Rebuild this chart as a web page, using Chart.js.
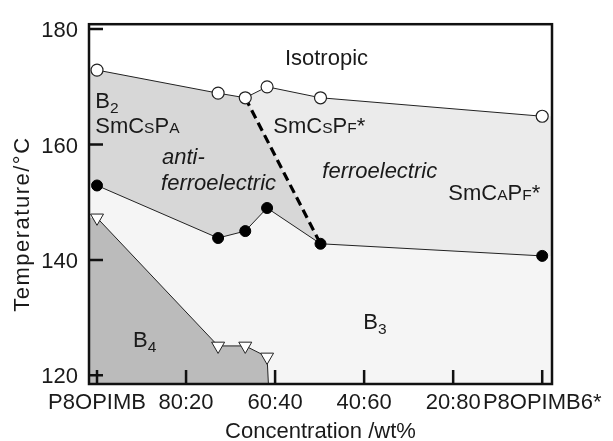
<!DOCTYPE html>
<html lang="en">
<head>
<meta charset="UTF-8">
<title>Phase diagram</title>
<script src="https://cdn.jsdelivr.net/npm/chart.js"></script>
<style>
  body { margin: 0; background: #fff; }
</style>
</head>
<body>
<canvas id="phaseChart" width="613" height="441"></canvas>
<script>
// concentration axis
const tickValues = [0, 20, 40, 60, 80, 100];
const tickLabels = ['P8OPIMB', '80:20', '60:40', '40:60', '20:80', 'P8OPIMB6*'];
const tempTicks = [120, 140, 160, 180];

// measured transitions
const concX = [0, 27.2, 33.3, 38.2, 50.2, 100];
const isoT = [172.9, 168.9, 168.1, 170.0, 168.1, 164.9];   // open circles, isotropic
const b3T = [152.9, 143.8, 145.0, 149.0, 142.8, 140.7];    // filled circles
const b4T = [147.3, 125.1, 125.1, 123.2];                  // triangles (first 4 concentrations)
const b4EdgeX = 38.5;                                      // B4 boundary meets bottom axis

const X_MIN = -1.8, X_MAX = 102.2, Y_MIN = 118.5, Y_MAX = 180.85;
const FONT = "'Liberation Sans', Arial, Helvetica, sans-serif";
const INK = '#1a1a1a';

const pts = (xs, ys) => ys.map((y, i) => ({x: xs[i], y: y}));
const isoPts = pts(concX, isoT);
const b3Pts = pts(concX, b3T);
const b4Pts = pts(concX, b4T);
const toEdges = p => [{x: X_MIN, y: p[0].y}, ...p, {x: X_MAX, y: p[p.length - 1].y}];

const b4Line = [...b4Pts, {x: b4EdgeX, y: Y_MIN}];

// phase labels: [text, kind] kind: '' normal, 'sub' subscript, 'sc' small cap
const phaseLabels = [
  {x: 42.2, y: 173.7, parts: [['Isotropic', '']]},
  {x: -0.4, y: 166.4, parts: [['B', ''], ['2', 'sub']]},
  {x: -0.4, y: 162.0, parts: [['SmC', ''], ['S', 'sc'], ['P', ''], ['A', 'sc']]},
  {x: 14.6, y: 156.6, italic: true, parts: [['anti-', '']]},
  {x: 14.4, y: 152.2, italic: true, parts: [['ferroelectric', '']]},
  {x: 39.6, y: 162.0, parts: [['SmC', ''], ['S', 'sc'], ['P', ''], ['F', 'sc'], ['*', '']]},
  {x: 50.6, y: 154.2, italic: true, parts: [['ferroelectric', '']]},
  {x: 78.9, y: 150.3, parts: [['SmC', ''], ['A', 'sc'], ['P', ''], ['F', 'sc'], ['*', '']]},
  {x: 59.8, y: 128.1, parts: [['B', ''], ['3', 'sub']]},
  {x: 8.1, y: 124.9, parts: [['B', ''], ['4', 'sub']]}
];

const fillSet = (data, color, order) => ({
  data: data, borderWidth: 0, pointRadius: 0, fill: 'start',
  backgroundColor: color, order: order, tension: 0
});

const frame = {
  id: 'frame',
  afterDatasetsDraw(chart) {
    const {ctx, chartArea: a, scales: {x, y}} = chart;
    ctx.save();
    ctx.strokeStyle = '#111';
    ctx.lineWidth = 2.5;
    ctx.strokeRect(a.left, a.top, a.right - a.left, a.bottom - a.top);
    ctx.beginPath();
    y.ticks.forEach(t => {
      const py = y.getPixelForValue(t.value);
      ctx.moveTo(a.left, py); ctx.lineTo(a.left + 14, py);
    });
    x.ticks.forEach(t => {
      const px = x.getPixelForValue(t.value);
      ctx.moveTo(px, a.bottom); ctx.lineTo(px, a.bottom - 14);
    });
    ctx.stroke();

    // phase labels
    ctx.fillStyle = INK;
    ctx.textBaseline = 'alphabetic';
    ctx.textAlign = 'left';
    phaseLabels.forEach(l => {
      let cx = x.getPixelForValue(l.x);
      const by = y.getPixelForValue(l.y);
      l.parts.forEach(([txt, kind]) => {
        const size = kind === '' ? 22 : 15.5;
        const dy = kind === 'sub' ? 5 : 0;
        ctx.font = (l.italic ? 'italic ' : '') + size + 'px ' + FONT;
        ctx.fillText(txt, cx, by + dy);
        cx += ctx.measureText(txt).width;
      });
    });

    // y axis title
    ctx.font = '22px ' + FONT;
    ctx.letterSpacing = '1.5px';
    ctx.textAlign = 'center';
    ctx.textBaseline = 'middle';
    ctx.translate(y.left + 23, (a.top + a.bottom) / 2 + 20);
    ctx.rotate(-Math.PI / 2);
    ctx.fillText('Temperature/°C', 0, 0);
    ctx.restore();
  }
};

new Chart(document.getElementById('phaseChart'), {
  type: 'line',
  data: {
    datasets: [
      fillSet(toEdges(isoPts), '#ebebeb', 10),
      fillSet([{x: X_MIN, y: isoT[0]}, ...isoPts.slice(0, 3), b3Pts[4]], '#d7d7d7', 9),
      fillSet(toEdges(b3Pts), '#f5f5f5', 8),
      fillSet([{x: X_MIN, y: b4T[0]}, ...b4Line], '#bbbbbb', 7),
      {
        data: [isoPts[2], b3Pts[4]], borderColor: '#000', borderWidth: 3.2,
        borderDash: [9, 5], pointRadius: 0, fill: false, order: 4
      },
      {
        data: b4Line, borderColor: '#222', borderWidth: 1, fill: false, order: 3,
        pointStyle: 'triangle', rotation: 180,
        pointRadius: c => c.dataIndex < b4T.length ? 7.5 : 0,
        pointBackgroundColor: '#fff', pointBorderColor: '#222', pointBorderWidth: 1
      },
      {
        data: b3Pts, borderColor: '#222', borderWidth: 1, fill: false, order: 2,
        pointRadius: 5.5, pointBackgroundColor: '#000', pointBorderColor: '#000'
      },
      {
        data: isoPts, borderColor: '#222', borderWidth: 1, fill: false, order: 1,
        pointRadius: 6, pointBackgroundColor: '#fff', pointBorderColor: '#222',
        pointBorderWidth: 1.2
      }
    ]
  },
  options: {
    responsive: false,
    animation: false,
    layout: {padding: {top: 15, right: 61, bottom: 0, left: 0}},
    plugins: {legend: {display: false}, tooltip: {enabled: false}},
    scales: {
      x: {
        type: 'linear', min: X_MIN, max: X_MAX,
        afterBuildTicks: s => { s.ticks = tickValues.map(v => ({value: v})); },
        afterFit: s => { s.height = 57; },
        grid: {display: false, drawTicks: false},
        border: {display: false},
        ticks: {
          autoSkip: false, maxRotation: 0, padding: 6, color: INK,
          font: {family: FONT, size: 22},
          callback: v => tickLabels[tickValues.indexOf(v)]
        },
        title: {
          display: true, text: 'Concentration /wt%', color: INK,
          font: {family: FONT, size: 22, lineHeight: 0.8},
          padding: {top: 0, bottom: 0}
        }
      },
      y: {
        type: 'linear', min: Y_MIN, max: Y_MAX,
        afterBuildTicks: s => { s.ticks = tempTicks.map(v => ({value: v})); },
        afterFit: s => { s.width = 89; },
        grid: {display: false, drawTicks: false},
        border: {display: false},
        ticks: {padding: 11, labelOffset: 2, color: INK, font: {family: FONT, size: 22}}
      }
    }
  },
  plugins: [frame]
});
</script>
</body>
</html>
